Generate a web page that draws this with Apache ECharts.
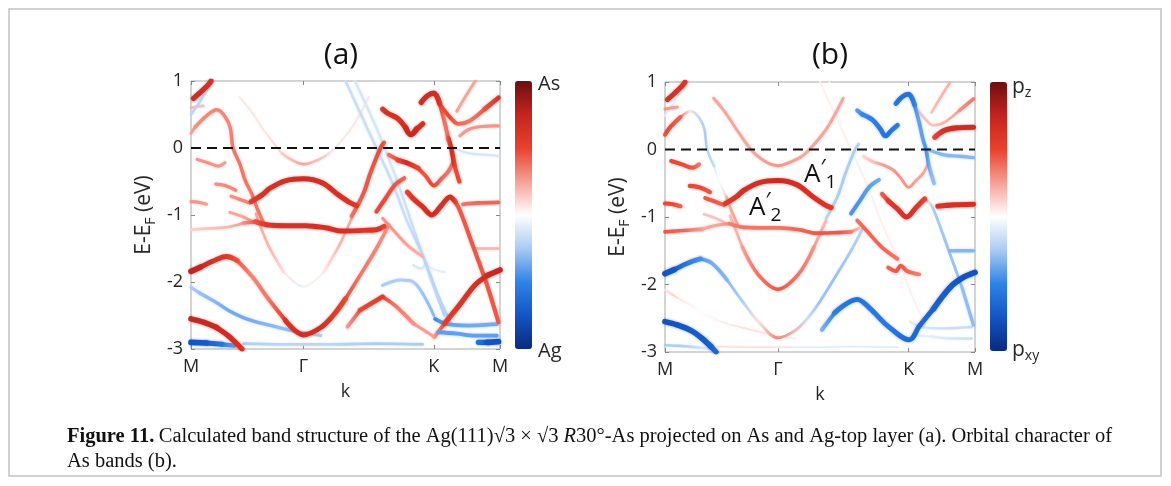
<!DOCTYPE html>
<html><head><meta charset="utf-8">
<script src="https://cdn.jsdelivr.net/npm/echarts@6/dist/echarts.min.js"></script>
<style>html,body{margin:0;padding:0;background:#fff}#c{width:1171px;height:486px}</style>
</head><body><div id="c"></div>
<script>
// ---------- axis / tick data ----------
const kTickValues = [0, 0.364, 0.786, 1];
const kTickLabels = ['M', 'Γ', 'K', 'M'];
const energyMin = -3, energyMax = 1, energyStep = 1;
const fermiLine = [[0, 0], [1, 0]];
const colorScaleValues = [-1, -0.75, -0.5, -0.25, 0, 0.25, 0.5, 0.75, 1];
const colorScaleColors = ['#0a2a7c', '#1454c4', '#2f82e8', '#a9cbf3', '#ffffff', '#f5a196', '#e8412e', '#c42420', '#6b0f0f'];
const panelTitles = ['(a)', '(b)'];

// ---------- bands: [k, E (eV), weight panel a (As + / Ag -), weight panel b (pz + / pxy -)] ----------
const bandTopLeft = [[0.008,0.74,0.85,0.8],[0.03,0.83,0.85,0.8],[0.055,0.94,0.8,0.75],[0.065,1.0,0.75,0.7]];
const bandTopLeft2 = [[0.0,0.6,0.25,0.35],[0.04,0.63,0.2,0.3]];
const bandLeftPeak = [[0.0,0.22,0.3,0.55],[0.013,0.31,0.35,0.6],[0.05,0.48,0.4,0.5],[0.084,0.57,0.4,0.1],[0.11,0.47,0.4,-0.25],[0.127,0.3,0.4,-0.3],[0.136,0.0,0.45,-0.25],[0.159,-0.25,0.45,-0.2],[0.175,-0.48,0.45,0.0],[0.198,-0.7,0.45,0.2],[0.214,-0.9,0.45,0.3],[0.235,-1.12,0.4,0.3]];
const bandDip = [[0.02,-0.17,0.35,0.6],[0.055,-0.22,0.35,0.6],[0.088,-0.27,0.35,0.55],[0.11,-0.22,0.3,0.4]];
const bandSmall06 = [[0.08,-0.54,0.35,0.6],[0.11,-0.56,0.4,0.6],[0.145,-0.63,0.4,0.55]];
const bandLeft08 = [[0.0,-0.8,0.35,0.6],[0.025,-0.81,0.35,0.6],[0.05,-0.84,0.3,0.5]];
const bandMid08 = [[0.13,-0.72,0.35,0.55],[0.16,-0.77,0.4,0.55],[0.19,-0.82,0.4,0.5]];
const bandDome = [[0.195,-0.8,0.7,0.7],[0.23,-0.7,0.75,0.75],[0.256,-0.6,0.8,0.8],[0.305,-0.49,0.8,0.82],[0.364,-0.46,0.85,0.88],[0.425,-0.52,0.8,0.82],[0.477,-0.7,0.8,0.8],[0.516,-0.82,0.75,0.75],[0.536,-0.86,0.7,0.7]];
const bandFlat = [[0.0,-1.22,0.15,0.55],[0.06,-1.2,0.2,0.5],[0.12,-1.18,0.25,0.3],[0.17,-1.12,0.35,0.3],[0.208,-1.1,0.55,0.4],[0.25,-1.15,0.75,0.45],[0.305,-1.16,0.8,0.45],[0.37,-1.16,0.8,0.45],[0.435,-1.19,0.8,0.5],[0.49,-1.24,0.8,0.55],[0.558,-1.23,0.75,0.55],[0.6,-1.22,0.75,0.4],[0.625,-1.17,0.6,0.2]];
const bandJoin = [[0.126,-0.96,0.3,0.2],[0.165,-1.02,0.3,0.2],[0.2,-1.1,0.35,0.25]];
const bandPara1 = [[0.157,0.76,0.08,0.3],[0.196,0.54,0.08,0.3],[0.238,0.25,0.08,0.3],[0.294,-0.08,0.15,0.3],[0.363,-0.24,0.3,0.35],[0.435,-0.12,0.15,0.3],[0.47,0.02,0.08,0.3],[0.523,0.32,0.08,0.3],[0.575,0.76,0.08,0.3]];
const bandPara2 = [[0.21,-0.98,0.3,0.2],[0.25,-1.45,0.25,0.3],[0.3,-1.85,0.1,0.45],[0.364,-2.07,-0.08,0.55],[0.43,-1.85,0.05,0.45],[0.48,-1.45,0.25,0.35],[0.52,-1.05,0.3,0.2]];
const bandBig = [[0.0,-1.84,0.95,-0.95],[0.03,-1.78,0.9,-0.9],[0.07,-1.69,0.8,-0.7],[0.115,-1.62,0.7,-0.55],[0.15,-1.68,0.55,-0.45],[0.2,-1.93,0.4,-0.4],[0.25,-2.25,0.45,-0.3],[0.305,-2.57,0.75,0.1],[0.364,-2.79,0.85,0.4],[0.42,-2.68,0.8,0.25],[0.46,-2.5,0.7,-0.2],[0.5,-2.25,0.6,-0.35],[0.55,-1.88,0.45,-0.35],[0.6,-1.5,0.4,-0.3],[0.64,-1.15,0.35,-0.25]];
const bandKBottom = [[0.506,-2.67,0.3,-0.4],[0.547,-2.42,0.6,-0.65],[0.62,-2.22,0.7,-0.75],[0.66,-2.35,0.45,-0.7],[0.72,-2.62,0.35,-0.7],[0.788,-2.82,0.3,-0.8],[0.82,-2.62,0.65,-0.8],[0.866,-2.36,0.75,-0.85],[0.92,-2.04,0.8,-0.9],[0.96,-1.9,0.88,-0.95],[1.0,-1.82,0.92,-0.95]];
const bandBotLeft = [[0.0,-2.55,0.9,-0.95],[0.04,-2.6,0.9,-0.95],[0.083,-2.68,0.88,-0.9],[0.12,-2.8,0.85,-0.9],[0.148,-2.92,0.8,-0.85],[0.165,-3.0,0.75,-0.8]];
const bandBotBlue = [[0.0,-2.9,-0.95,-0.3],[0.05,-2.91,-0.9,-0.3],[0.1,-2.93,-0.7,-0.2],[0.14,-2.95,-0.5,-0.1]];
const bandAgDiag = [[0.0,-2.08,-0.3,0.1],[0.03,-2.17,-0.35,0.15],[0.08,-2.3,-0.4,0.05],[0.12,-2.42,-0.45,0.0],[0.18,-2.55,-0.45,0.05],[0.25,-2.64,-0.4,0.1],[0.34,-2.74,-0.35,0.1],[0.42,-2.8,-0.3,0.05]];
const bandBotFaint = [[0.17,-2.92,-0.3,0.1],[0.3,-2.93,-0.25,0.1],[0.45,-2.93,-0.25,-0.1],[0.6,-2.92,-0.3,-0.1],[0.75,-2.93,-0.3,-0.1]];
const bandKBlue1 = [[0.79,-2.55,-0.6,-0.1],[0.83,-2.63,-0.5,-0.15],[0.9,-2.65,-0.45,-0.2],[0.99,-2.63,-0.45,-0.2]];
const bandKBlue2 = [[0.8,-2.75,-0.5,-0.1],[0.86,-2.77,-0.5,-0.1],[0.92,-2.8,-0.5,-0.15],[0.99,-2.8,-0.5,-0.2]];
const bandKBlue3 = [[0.93,-2.9,-0.7,0.0],[0.96,-2.9,-0.95,0.0],[0.995,-2.89,-0.95,0.0]];
const bandUpperV = [[0.64,-0.1,0.45,0.1],[0.67,-0.18,0.6,0.2],[0.698,-0.22,0.85,0.3],[0.735,-0.3,0.6,0.35],[0.76,-0.42,0.55,0.35],[0.786,-0.56,0.6,0.35],[0.81,-0.46,0.5,0.3],[0.833,-0.35,0.45,0.3],[0.85,-0.2,0.4,0.2]];
const bandLowerW = [[0.7,-0.66,0.6,0.5],[0.72,-0.76,0.75,0.7],[0.75,-0.88,0.8,0.75],[0.779,-1.0,0.85,0.8],[0.81,-0.86,0.8,0.75],[0.838,-0.73,0.8,0.6],[0.855,-0.8,0.6,0.1],[0.87,-0.93,0.55,-0.3],[0.914,-1.48,0.55,-0.35],[0.957,-2.03,0.55,-0.35],[0.995,-2.6,0.55,-0.4]];
const bandKPeak = [[0.745,0.68,0.85,-0.7],[0.765,0.78,0.85,-0.75],[0.786,0.82,0.85,-0.75],[0.805,0.66,0.7,-0.6],[0.82,0.4,0.45,-0.5],[0.832,0.15,0.5,-0.5],[0.842,0.0,0.85,-0.55],[0.852,-0.25,0.6,-0.4],[0.868,-0.5,0.6,-0.35]];
const bandZ = [[0.62,0.58,0.7,-0.5],[0.636,0.52,0.8,-0.6],[0.669,0.44,0.8,-0.65],[0.695,0.3,0.85,-0.7],[0.711,0.2,0.9,-0.75],[0.73,0.28,0.85,-0.7],[0.75,0.36,0.8,-0.65]];
const bandRightV = [[0.81,0.62,0.6,0.15],[0.84,0.45,0.6,0.2],[0.865,0.36,0.5,0.2],[0.9,0.4,0.45,0.25],[0.95,0.58,0.55,0.35],[0.995,0.75,0.8,0.45]];
const bandTopRight = [[0.86,0.55,0.3,0.2],[0.89,0.78,0.3,0.25],[0.92,1.0,0.3,0.25]];
const bandFlat03 = [[0.87,0.18,0.3,0.6],[0.9,0.28,0.35,0.8],[0.94,0.32,0.35,0.85],[0.995,0.33,0.35,0.85]];
const bandFlat08R = [[0.88,-0.84,0.45,0.75],[0.93,-0.82,0.5,0.8],[0.995,-0.81,0.5,0.8]];
const bandRightBlue01 = [[0.85,0.0,-0.15,-0.4],[0.9,-0.08,-0.15,-0.4],[0.95,-0.1,-0.15,-0.4],[0.995,-0.12,-0.15,-0.4]];
const bandRight15 = [[0.92,-1.5,0.25,-0.4],[0.96,-1.5,0.25,-0.4],[0.995,-1.5,0.25,-0.4]];
const bandK18 = [[0.72,-1.75,-0.15,0.5],[0.745,-1.8,-0.15,0.55],[0.76,-1.72,-0.1,0.55],[0.78,-1.8,-0.1,0.5],[0.82,-1.85,-0.1,0.4]];
const bandFermi06 = [[0.52,-1.02,0.45,-0.25],[0.558,-0.68,0.55,-0.3],[0.58,-0.38,0.55,-0.3],[0.613,0.0,0.6,-0.3],[0.625,0.08,0.5,-0.25]];
const bandMidRed = [[0.6,-0.95,0.6,-0.55],[0.63,-0.75,0.6,-0.55],[0.66,-0.55,0.55,-0.5],[0.69,-0.45,0.5,-0.45]];
const bandMid13 = [[0.62,-1.05,0.35,0.45],[0.65,-1.2,0.35,0.5],[0.7,-1.45,0.3,0.5],[0.75,-1.62,0.25,0.45]];
const bandAgDiag1 = [[0.5,1.0,-0.2,0.05],[0.55,0.5,-0.2,0.05],[0.6,0.0,-0.2,0.05],[0.65,-0.5,-0.2,0.05],[0.7,-1.1,-0.2,0.05],[0.75,-1.6,-0.25,0.05],[0.8,-2.2,-0.25,0.05],[0.84,-2.6,-0.3,0.05]];
const bandAgDiag2 = [[0.53,1.0,-0.15,0.0],[0.6,0.3,-0.15,0.0],[0.66,-0.4,-0.15,0.0],[0.72,-1.2,-0.2,0.0],[0.78,-2.0,-0.25,0.0],[0.82,-2.5,-0.3,0.0]];
const bandAgTopLeft = [[0.0,0.5,-0.25,-0.1],[0.03,0.7,-0.25,-0.1],[0.07,1.0,-0.2,-0.05]];
const bandAgK20 = [[0.62,-2.05,-0.3,0.0],[0.68,-1.97,-0.3,0.0],[0.72,-2.0,-0.3,0.0],[0.786,-2.5,-0.4,0.0]];

const bandList = [bandTopLeft, bandTopLeft2, bandLeftPeak, bandDip, bandSmall06, bandLeft08, bandMid08, bandDome,
  bandFlat, bandJoin, bandPara1, bandPara2, bandBig, bandKBottom, bandBotLeft, bandBotBlue, bandAgDiag, bandBotFaint,
  bandKBlue1, bandKBlue2, bandKBlue3, bandUpperV, bandLowerW, bandKPeak, bandZ, bandRightV, bandTopRight, bandFlat03,
  bandFlat08R, bandRightBlue01, bandRight15, bandK18, bandFermi06, bandMidRed, bandMid13, bandAgDiag1, bandAgDiag2,
  bandAgTopLeft, bandAgK20];

// ---------- helpers ----------
function hexToRgb(h){return [parseInt(h.substr(1,2),16),parseInt(h.substr(3,2),16),parseInt(h.substr(5,2),16)];}
function cmapRgb(w){
  w = Math.max(-1, Math.min(1, w));
  for (let i = 0; i < colorScaleValues.length - 1; i++) {
    const a = colorScaleValues[i], b = colorScaleValues[i+1];
    if (w >= a && w <= b) {
      const t = (w - a) / (b - a);
      const c1 = hexToRgb(colorScaleColors[i]), c2 = hexToRgb(colorScaleColors[i+1]);
      return c1.map((v, j) => Math.round(v + (c2[j] - v) * t));
    }
  }
  return hexToRgb(colorScaleColors[colorScaleColors.length - 1]);
}
function cmap(w, alpha){
  const c = cmapRgb(w);
  return alpha == null ? 'rgb(' + c.join(',') + ')' : 'rgba(' + c.join(',') + ',' + alpha + ')';
}

function bandSeries(panel) {
  const wi = panel === 0 ? 2 : 3;
  const runs = [];
  bandList.forEach(band => {
    let cur = [band[0]], bucket = null, strengths = [];
    for (let i = 0; i < band.length - 1; i++) {
      const s = (Math.abs(band[i][wi]) + Math.abs(band[i+1][wi])) / 2;
      const b = Math.round(s * 4);
      if (bucket !== null && b !== bucket) {
        runs.push({pts: cur, s: strengths.reduce((p, q) => p + q, 0) / strengths.length});
        cur = [band[i]]; strengths = [];
      }
      bucket = b;
      cur.push(band[i+1]); strengths.push(s);
    }
    runs.push({pts: cur, s: strengths.reduce((p, q) => p + q, 0) / strengths.length});
  });
  runs.sort((a, b) => a.s - b.s);
  return runs.map(run => {
    const ks = run.pts.map(p => p[0]);
    const kmin = Math.min(...ks), kmax = Math.max(...ks);
    const meanW = run.pts.reduce((p, q) => p + q[wi], 0) / run.pts.length;
    let color;
    if (kmax - kmin > 1e-6) {
      const stops = run.pts.map(p => ({offset: (p[0] - kmin) / (kmax - kmin), color: cmap(p[wi] * 0.8)}))
        .sort((a, b) => a.offset - b.offset);
      color = new echarts.graphic.LinearGradient(0, 0, 1, 0, stops);
    } else {
      color = cmap(run.pts[0][wi] * 0.8);
    }
    return {
      type: 'line', xAxisIndex: panel * 2, yAxisIndex: panel * 2, silent: true,
      data: run.pts.map(p => [p[0], p[1]]), smooth: 0.35, symbol: 'none', clip: true,
      lineStyle: {color: color, width: 1.6 + 4.4 * run.s, cap: 'round', join: 'round',
        shadowBlur: 3, shadowColor: cmap(meanW * 0.8, 0.55)},
      animation: false
    };
  });
}

const FONT = 'Open Sans';
const gridDefs = [
  {left: 191, top: 81, width: 309, height: 268},
  {left: 665, top: 82, width: 310, height: 270}
];
const xAxes = [], yAxes = [];
gridDefs.forEach((g, i) => {
  xAxes.push({
    gridIndex: i, type: 'value', min: 0, max: 1, position: 'bottom',
    axisLine: {show: false, onZero: false}, splitLine: {show: false},
    axisTick: {show: true, inside: true, length: 4, customValues: kTickValues, lineStyle: {color: '#888'}},
    axisLabel: {customValues: kTickValues, margin: 9, fontSize: 18, color: '#262626', fontFamily: FONT,
      formatter: v => { const j = kTickValues.findIndex(t => Math.abs(t - v) < 1e-6); return j >= 0 ? kTickLabels[j] : ''; }},
    name: 'k', nameLocation: 'middle', nameGap: 34,
    nameTextStyle: {fontSize: 18, color: '#262626', fontFamily: FONT}
  });
  xAxes.push({
    gridIndex: i, type: 'value', min: 0, max: 1, position: 'top',
    axisLine: {show: false, onZero: false}, splitLine: {show: false}, axisLabel: {show: false},
    axisTick: {show: true, inside: true, length: 4, customValues: kTickValues, lineStyle: {color: '#888'}}
  });
  yAxes.push({
    gridIndex: i, type: 'value', min: energyMin, max: energyMax, interval: energyStep, position: 'left',
    axisLine: {show: false, onZero: false}, splitLine: {show: false},
    axisTick: {show: true, inside: true, length: 4, lineStyle: {color: '#888'}},
    axisLabel: {margin: 8, fontSize: 18, color: '#262626', fontFamily: FONT},
    name: '{e|E-E}{f|F}{e| (eV)}', nameLocation: 'middle', nameGap: 33,
    nameTextStyle: {color: '#262626', fontFamily: FONT,
      rich: {e: {fontSize: 21, lineHeight: 28, fontFamily: FONT, color: '#262626'},
             f: {fontSize: 14, lineHeight: 14, verticalAlign: 'bottom', fontFamily: FONT, color: '#262626'}}}
  });
  yAxes.push({
    gridIndex: i, type: 'value', min: energyMin, max: energyMax, interval: energyStep, position: 'right',
    axisLine: {show: false, onZero: false}, splitLine: {show: false}, axisLabel: {show: false},
    axisTick: {show: true, inside: true, length: 4, lineStyle: {color: '#888'}}
  });
});

const series = [
  {type: 'scatter', xAxisIndex: 0, yAxisIndex: 0, data: [], silent: true},
  {type: 'scatter', xAxisIndex: 2, yAxisIndex: 2, data: [], silent: true}
];
[0, 1].forEach(p => {
  bandSeries(p).forEach(s => series.push(s));
  series.push({type: 'line', xAxisIndex: p * 2, yAxisIndex: p * 2, data: fermiLine, symbol: 'none', silent: true, z: 10,
    lineStyle: {color: '#111', width: 2.2, type: [10, 6]}, animation: false});
});

const cbDefs = [{left: 515, top: 81, h: 268, series: 0}, {left: 990, top: 82, h: 269, series: 1}];
const visualMaps = cbDefs.map(c => ({
  type: 'continuous', min: -1, max: 1, calculable: false, seriesIndex: c.series, orient: 'vertical',
  left: c.left, top: c.top, itemWidth: 17, itemHeight: c.h, padding: 0, text: null, showLabel: false,
  inRange: {color: colorScaleColors}, hoverLink: false
}));

const txt = (x, y, text, extra) => Object.assign({type: 'text', x: x, y: y, silent: true,
  style: Object.assign({text: text, fontFamily: FONT, fill: '#262626', fontSize: 17, verticalAlign: 'middle'}, extra || {})});
const subRich = {p: {fontSize: 21, lineHeight: 26, fontFamily: FONT, fill: '#262626'},
                 s: {fontSize: 14, lineHeight: 14, verticalAlign: 'bottom', fontFamily: FONT, fill: '#262626'}};
const aRich = {a: {fontSize: 26, lineHeight: 34, fontFamily: FONT, fill: '#111'},
               p: {fontSize: 22, lineHeight: 22, verticalAlign: 'top', fontFamily: FONT, fill: '#111'},
               s: {fontSize: 19, lineHeight: 19, verticalAlign: 'bottom', fontFamily: FONT, fill: '#111'}};
const capRich = {b: {fontSize: 20.5, fontWeight: 'bold', fontFamily: 'Liberation Serif', fill: '#111'},
                 n: {fontSize: 20.5, fontFamily: 'Liberation Serif', fill: '#111'},
                 i: {fontSize: 20.5, fontStyle: 'italic', fontFamily: 'Liberation Serif', fill: '#111'}};

const graphics = [
  {type: 'rect', silent: true, shape: {x: 9, y: 9, width: 1152, height: 467}, style: {fill: 'none', stroke: '#c4c4c4', lineWidth: 1.5}},
  txt(341, 55, panelTitles[0], {fontSize: 30, align: 'center', fill: '#111'}),
  txt(830, 55, panelTitles[1], {fontSize: 30, align: 'center', fill: '#111'}),
  txt(538, 84, 'As', {fontSize: 20}),
  txt(538, 351, 'Ag', {fontSize: 20}),
  txt(1012, 87, '{p|p}{s|z}', {rich: subRich}),
  txt(1012, 350, '{p|p}{s|xy}', {rich: subRich}),
  txt(804, 175, '{a|A}{p|′}{s|1}', {rich: aRich}),
  txt(749, 208, '{a|A}{p|′}{s|2}', {rich: aRich}),
  txt(67, 437, '{b|Figure 11.} {n|Calculated band structure of the Ag(111)√3 × √3 }{i|R}{n|30°-As projected on As and Ag-top layer (a). Orbital character of}', {rich: capRich}),
  txt(67, 462, '{n|As bands (b).}', {rich: capRich})
];

const chart = echarts.init(document.getElementById('c'), null, {renderer: 'canvas'});
chart.setOption({
  animation: false,
  backgroundColor: '#fff',
  grid: gridDefs.map(g => Object.assign({show: true, borderColor: '#a8a8a8', borderWidth: 1, backgroundColor: 'transparent'}, g)),
  xAxis: xAxes, yAxis: yAxes,
  visualMap: visualMaps,
  series: series,
  graphic: graphics
});
</script></body></html>
